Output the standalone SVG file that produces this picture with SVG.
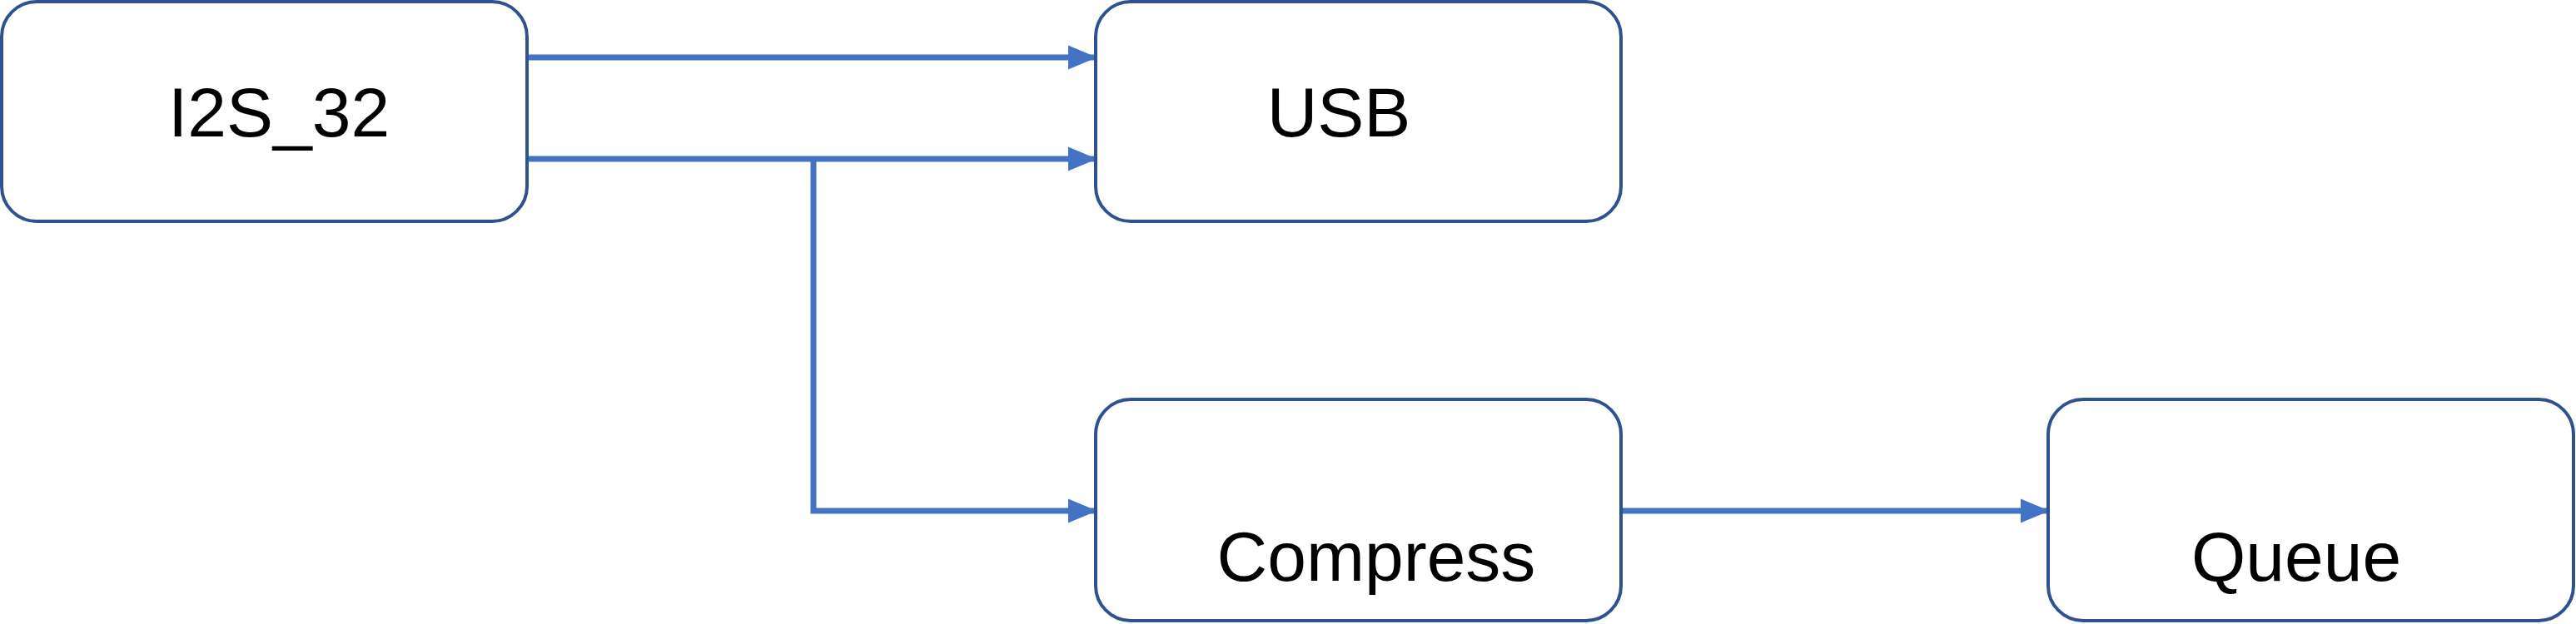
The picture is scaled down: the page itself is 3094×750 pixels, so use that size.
<svg xmlns="http://www.w3.org/2000/svg" width="3094" height="750" viewBox="0 0 3094 750">
<style>
.box{fill:#fff;stroke:#2F528F;stroke-width:4}
.t{font-family:"Liberation Sans",Arial,sans-serif;font-size:84px;fill:#000;text-anchor:middle}
.c{fill:none;stroke:#4472C4;stroke-width:7}
</style>
<defs><marker id="a" markerWidth="5" markerHeight="5" refX="4.5" refY="2.5" orient="auto" markerUnits="strokeWidth"><path d="M0,0.4L5,2.5L0,4.6z" fill="#4472C4"/></marker></defs>
<rect width="3094" height="750" fill="#fff"/>
<g id="connectors">
<path class="c" d="M633,69H1314" marker-end="url(#a)"/>
<path class="c" d="M633,191H1314" marker-end="url(#a)"/>
<path class="c" d="M977,191V614H1314" marker-end="url(#a)"/>
<path class="c" d="M1947,614H2458" marker-end="url(#a)"/>
</g>
<g id="i2s"><rect class="box" x="2" y="2" width="631" height="264" rx="42"/><text class="t" x="335" y="164">I2S_32</text></g>
<g id="usb"><rect class="box" x="1316" y="2" width="631" height="264" rx="42"/><text class="t" x="1608" y="164">USB</text></g>
<g id="compress"><rect class="box" x="1316" y="480" width="631" height="266" rx="42"/><text class="t" x="1653" y="698">Compress</text></g>
<g id="queue"><rect class="box" x="2460" y="480" width="631" height="266" rx="42"/><text class="t" x="2758" y="698">Queue</text></g>
</svg>
